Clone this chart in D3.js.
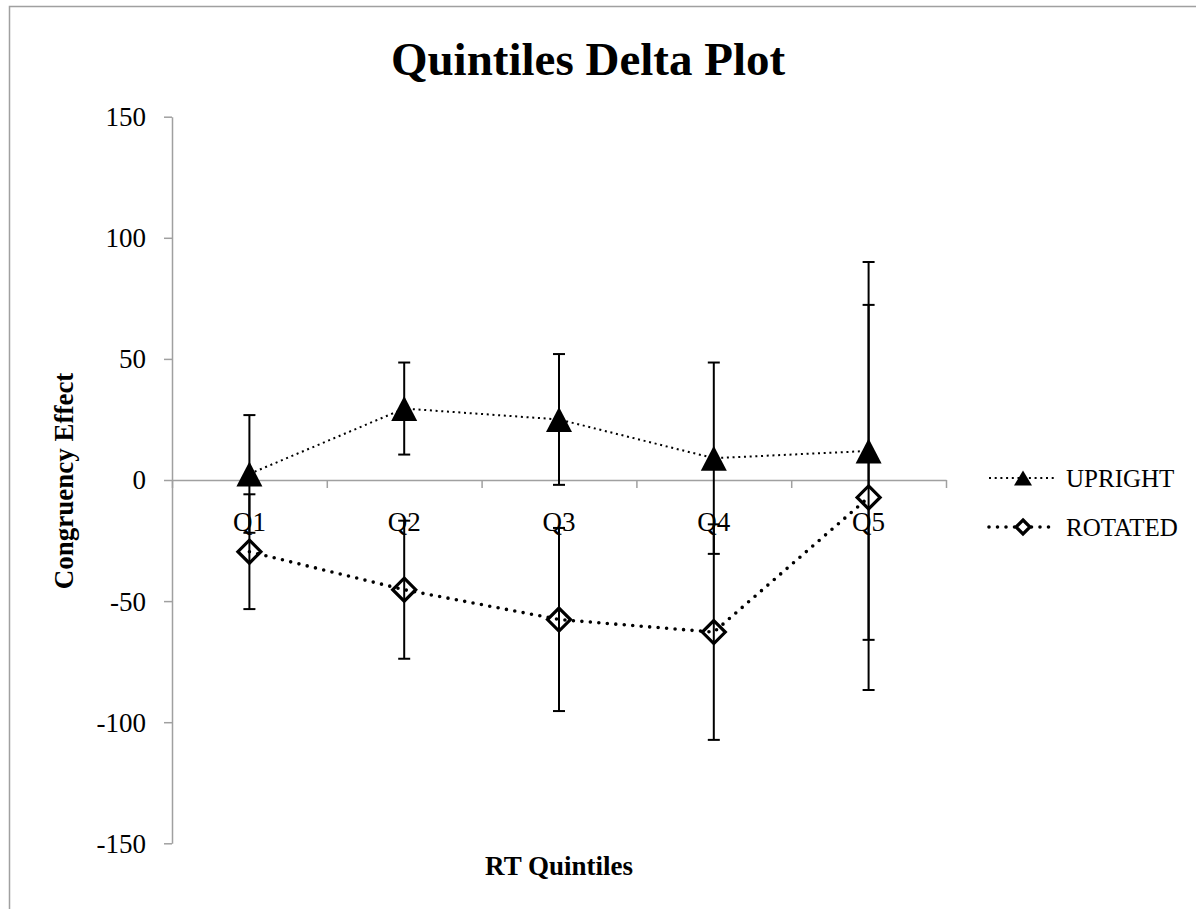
<!DOCTYPE html>
<html>
<head>
<meta charset="utf-8">
<script src="https://cdn.jsdelivr.net/npm/d3@7"></script>
<style>
  html, body { margin: 0; padding: 0; background: #fff; }
  svg { display: block; }
  text { font-family: "Liberation Serif", "DejaVu Serif", serif; fill: #000; }
</style>
</head>
<body>
<div id="chart"></div>
<script>
// chart values
const quintiles = ['Q1', 'Q2', 'Q3', 'Q4', 'Q5'];
const uprightMean = [2.5, 29.5, 25, 9, 12];
const uprightErr = [24.3, 19, 27, 39.5, 78];
const rotatedMean = [-29.6, -45.3, -57.6, -62.8, -7.2];
const rotatedErr = [23.7, 28.5, 37.8, 44.5, 79.5];
const yTicks = [-150, -100, -50, 0, 50, 100, 150];

const W = 1196, H = 909;
const svg = d3.select('#chart').append('svg').attr('width', W).attr('height', H);

// outer chart border (only top and left edges fall inside the picture)
svg.append('rect')
  .attr('x', 9.5).attr('y', 6.5).attr('width', 1200).attr('height', 920)
  .attr('fill', 'none').attr('stroke', '#a0a0a0').attr('stroke-width', 1.5);

const x = d3.scaleBand().domain(quintiles).range([172, 946]).paddingInner(0).paddingOuter(0);
const xEdge = d3.scaleLinear().domain([0, quintiles.length]).range([172, 946]);
const y = d3.scaleLinear().domain([-150, 150]).range([843.3, 116.7]);
const cx = q => x(q) + x.bandwidth() / 2;

// y axis (plain hyphen minus, like the original)
const yAxis = svg.append('g').attr('transform', 'translate(172,0)')
  .call(d3.axisLeft(y).tickValues(yTicks).tickFormat(d => String(d))
    .tickSize(8).tickSizeOuter(0).tickPadding(18));
yAxis.select('.domain').attr('stroke', '#a0a0a0').attr('stroke-width', 1.5);
yAxis.selectAll('.tick line').attr('stroke', '#a0a0a0').attr('stroke-width', 1.5);
yAxis.selectAll('.tick text').style('font-size', '27px').attr('dy', '0.33em');

// x axis at zero: boundary ticks + category labels
const xTicks = svg.append('g').attr('transform', `translate(0,${y(0)})`)
  .call(d3.axisBottom(xEdge).tickValues(d3.range(quintiles.length + 1)).tickSize(8).tickSizeOuter(0).tickFormat(''));
xTicks.select('.domain').attr('stroke', '#a0a0a0').attr('stroke-width', 1.5);
xTicks.selectAll('.tick line').attr('stroke', '#a0a0a0').attr('stroke-width', 1.5);

const xLabels = svg.append('g').attr('transform', `translate(0,${y(0)})`)
  .call(d3.axisBottom(x).tickSize(0).tickPadding(32));
xLabels.select('.domain').remove();
xLabels.selectAll('.tick text').style('font-size', '27px');

// series
const series = [
  { name: 'UPRIGHT', mean: uprightMean, err: uprightErr, marker: 'tri' },
  { name: 'ROTATED', mean: rotatedMean, err: rotatedErr, marker: 'dia' }
];

const triPath = (w, h) => `M0,${-h / 2}L${w / 2},${h / 2}L${-w / 2},${h / 2}Z`;
const diaPath = (w, h) => `M0,${-h / 2}L${w / 2},0L0,${h / 2}L${-w / 2},0Z`;

function lineStyle(sel, s) {
  if (s.marker === 'tri') {
    sel.attr('stroke', '#000').attr('stroke-width', 2).attr('stroke-dasharray', '2,3.7');
  } else {
    sel.attr('stroke', '#000').attr('stroke-width', 3.6).attr('stroke-linecap', 'round').attr('stroke-dasharray', '0,8.5');
  }
}

function drawMarker(g, s, big) {
  if (s.marker === 'tri') {
    g.append('path').attr('d', big ? triPath(26, 25) : triPath(18, 15)).attr('fill', '#000');
  } else {
    g.append('path').attr('d', big ? diaPath(23, 23) : diaPath(14, 14))
      .attr('fill', '#fff').attr('stroke', '#000').attr('stroke-width', 3.2);
  }
}

series.forEach(s => {
  const pts = quintiles.map((q, i) => ({ q, v: s.mean[i], e: s.err[i] }));
  const g = svg.append('g');

  // markers
  pts.forEach(p => {
    const m = g.append('g').attr('transform', `translate(${cx(p.q)},${y(p.v)})`);
    drawMarker(m, s, true);
  });

  // dotted connecting line
  const line = d3.line().x(p => cx(p.q)).y(p => y(p.v));
  g.append('path').datum(pts).attr('d', line).attr('fill', 'none').call(lineStyle, s);

  // error bars
  const eb = g.selectAll('.eb').data(pts).enter().append('g');
  eb.append('line')
    .attr('x1', p => cx(p.q)).attr('x2', p => cx(p.q))
    .attr('y1', p => y(p.v + p.e)).attr('y2', p => y(p.v - p.e))
    .attr('stroke', '#000').attr('stroke-width', 2);
  [1, -1].forEach(sign => {
    eb.append('line')
      .attr('x1', p => cx(p.q) - 6).attr('x2', p => cx(p.q) + 6)
      .attr('y1', p => y(p.v + sign * p.e)).attr('y2', p => y(p.v + sign * p.e))
      .attr('stroke', '#000').attr('stroke-width', 2);
  });
});

// legend
series.forEach((s, i) => {
  const ly = 478 + i * 49;
  const lg = svg.append('g');
  lg.append('line').attr('x1', 989).attr('x2', 1056).attr('y1', ly).attr('y2', ly).call(lineStyle, s);
  const m = lg.append('g').attr('transform', `translate(1023,${ly})`);
  drawMarker(m, s, false);
  lg.append('text').attr('x', 1066).attr('y', ly + 9)
    .style('font-size', '25px').text(s.name);
});

// titles
svg.append('text').attr('x', 588).attr('y', 75).attr('text-anchor', 'middle')
  .style('font-size', '47px').style('font-weight', 'bold').text('Quintiles Delta Plot');

svg.append('text').attr('x', 559).attr('y', 875).attr('text-anchor', 'middle')
  .style('font-size', '27px').style('font-weight', 'bold').text('RT Quintiles');

svg.append('text').attr('transform', 'translate(73,481) rotate(-90)').attr('text-anchor', 'middle')
  .style('font-size', '27px').style('font-weight', 'bold').text('Congruency Effect');
</script>
</body>
</html>
